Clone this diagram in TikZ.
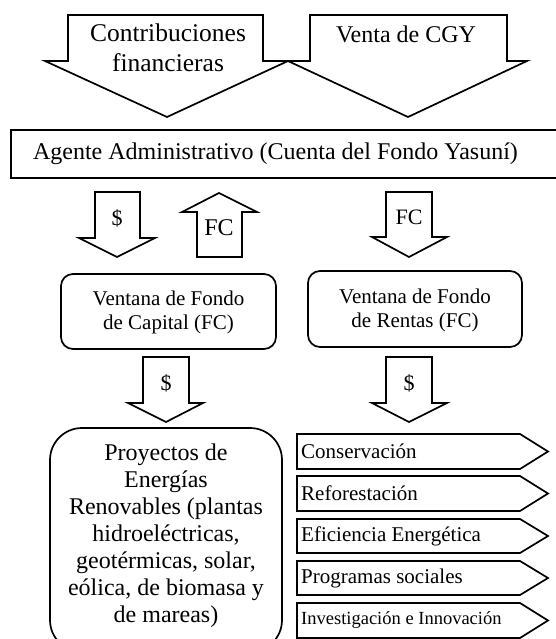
\documentclass[tikz,border=0pt]{standalone}
\usepackage{fontspec}
\setmainfont{Liberation Serif}
\newcommand{\fsz}[2]{\fontsize{#1}{#2}\selectfont}
\tikzset{
  shp/.style={draw=black, line width=1.7pt, line join=miter, fill=white},
  txt/.style={inner sep=0pt, align=center, text=black},
  lefttxt/.style={inner sep=0pt, anchor=west, text=black},
}
\begin{document}
\begin{tikzpicture}[x=1pt,y=-1pt]
\useasboundingbox (0,0) rectangle (556,639);
\clip (0,0) rectangle (556,639);
% top block arrows
\draw[shp] (68,15) -- (263,15) -- (263,61) -- (288,61) -- (167,117) -- (45,61) -- (68,61) -- cycle;
\draw[shp] (310,15) -- (507,15) -- (507,61) -- (527,61) -- (408,117) -- (288,61) -- (310,61) -- cycle;
\node[txt, font=\fsz{25.5}{30}] (contrib) at (168,48) {Contribuciones\\financieras};
\node[txt, font=\fsz{24}{30}] (venta) at (406,34) {Venta de CGY};
% agent box
\draw[shp] (11,130) rectangle (575,178);
\node[txt, font=\fsz{24}{28}] (agente) at (275.5,154) {Agente Administrativo (Cuenta del Fondo Yasuní)};
% arrows under agent
\draw[shp] (95,192) -- (140,192) -- (140,238) -- (155,238) -- (117,257) -- (79,238) -- (95,238) -- cycle;
\node[txt, font=\fsz{22}{26}] (d1) at (117,218) {\$};
\draw[shp] (197,257) -- (242,257) -- (242,212) -- (257,212) -- (219,193) -- (182,212) -- (197,212) -- cycle;
\node[txt, font=\fsz{24}{28}] (fc1) at (219,228) {FC};
\draw[shp] (386,192) -- (432,192) -- (432,237) -- (447,237) -- (409,257) -- (372,237) -- (386,237) -- cycle;
\node[txt, font=\fsz{22}{26}] (fc2) at (409,217) {FC};
% ventana boxes
\draw[shp, rounded corners=12pt] (61,274) rectangle (276,349);
\node[txt, font=\fsz{21}{24}] (vcap) at (168.5,312) {Ventana de Fondo\\de Capital (FC)};
\draw[shp, rounded corners=12pt] (308,271) rectangle (522,347);
\node[txt, font=\fsz{21}{24}] (vren) at (415,310) {Ventana de Fondo\\de Rentas (FC)};
% lower $ arrows
\draw[shp] (143,357) -- (189,357) -- (189,403) -- (203,403) -- (166,422) -- (128,403) -- (143,403) -- cycle;
\node[txt, font=\fsz{22}{26}] (d2) at (166,383) {\$};
\draw[shp] (386,357) -- (432,357) -- (432,403) -- (447,403) -- (409,422) -- (372,403) -- (386,403) -- cycle;
\node[txt, font=\fsz{22}{26}] (d3) at (409,383) {\$};
% proyectos box
\draw[shp, rounded corners=32pt] (50,428) rectangle (282,652);
\node[txt, font=\fsz{24}{27}] (proy) at (166,536) {Proyectos de\\Energías\\Renovables (plantas\\hidroeléctricas,\\geotérmicas, solar,\\eólica, de biomasa y\\de mareas)};
% pentagons
\foreach \t/\b/\lab/\sz in {434/469/Conservación/21, 476/511/Reforestación/21, 519/553/Eficiencia Energética/21, 561/595/Programas sociales/21, 603/638/Investigación e Innovación/18.5}{
  \draw[shp] (297,\t) -- (520,\t) -- (548,{(\t+\b)/2}) -- (520,\b) -- (297,\b) -- cycle;
  \node[lefttxt, font=\fsz{\sz}{24}] at (301,{(\t+\b)/2}) {\lab};
}
\end{tikzpicture}
\end{document}
